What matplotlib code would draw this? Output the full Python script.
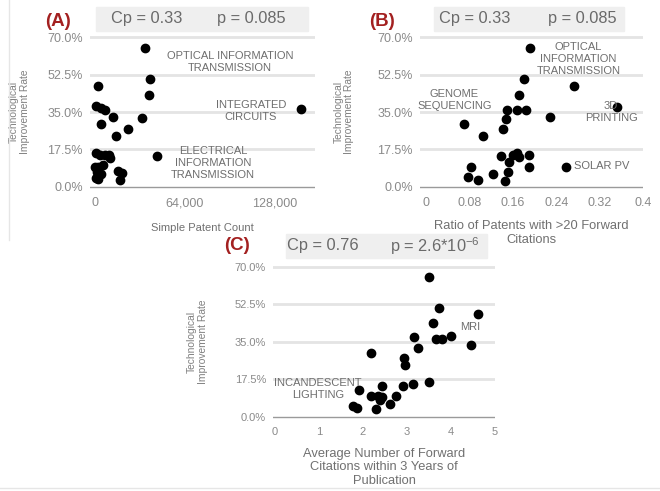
import matplotlib.pyplot as plt
from matplotlib.patches import Rectangle
from matplotlib.lines import Line2D
from matplotlib.ticker import FuncFormatter

plt.rcParams['font.family'] = ['Liberation Sans', 'DejaVu Sans']
plt.rcParams['mathtext.fontset'] = 'custom'
plt.rcParams['mathtext.rm'] = 'Liberation Sans'

# Data
# (A) simple patent count vs improvement rate (%)
a_count = [35500, 39100, 38400, 2100, 146500, 700, 4000, 7100, 12800, 33200,
           4300, 23700, 14900, 44300, 700, 3600, 7100, 10200, 10700, 0,
           2400, 5500, 1200, 4000, 2400, 1000, 16600, 19000, 17800]
a_rate = [65.0, 50.4, 42.9, 47.3, 36.3, 37.8, 36.7, 35.9, 32.8, 32.0,
          29.3, 27.0, 23.8, 14.3, 15.7, 14.9, 14.9, 14.9, 13.4, 9.5,
          9.5, 10.3, 7.1, 6.1, 3.6, 4.1, 7.6, 6.4, 3.3]

# (B) ratio of patents with >20 forward citations
b_ratio = [0.191, 0.181, 0.273, 0.170, 0.352, 0.148, 0.167, 0.183, 0.146, 0.228,
           0.070, 0.141, 0.104, 0.137, 0.152, 0.159, 0.168, 0.171, 0.189, 0.190,
           0.151, 0.145, 0.123, 0.096, 0.076, 0.082, 0.257]
b_rate = [65.0, 50.4, 47.3, 42.9, 37.5, 35.9, 36.0, 36.0, 31.7, 32.8,
          29.3, 27.1, 23.9, 14.5, 11.8, 14.9, 15.7, 14.1, 14.9, 9.5,
          7.1, 2.9, 6.1, 3.3, 4.8, 9.5, 9.3]

# (C) average forward citations within 3 years
c_cites = [3.51, 3.73, 4.62, 3.60, 3.17, 3.65, 3.79, 3.99, 4.45, 3.25,
           2.18, 2.94, 2.95, 2.92, 3.13, 3.51, 2.44, 1.91, 2.18, 2.35,
           2.44, 2.39, 2.75, 2.61, 1.78, 1.87, 2.30]
c_rate = [65.3, 50.6, 47.9, 43.6, 37.1, 36.3, 36.3, 37.8, 33.5, 32.2,
          29.6, 27.5, 24.1, 14.5, 15.1, 16.0, 14.5, 12.5, 9.7, 9.7,
          9.3, 7.8, 9.7, 5.9, 5.1, 3.9, 3.4]

y_ticks = [0, 17.5, 35, 52.5, 70]
a_xticks = [0, 64000, 128000]
a_xticklabels = ['0', '64,000', '128,000']
b_xticks = [0, 0.08, 0.16, 0.24, 0.32, 0.4]
b_xticklabels = ['0', '0.08', '0.16', '0.24', '0.32', '0.4']
c_xticks = [0, 1, 2, 3, 4, 5]

W, H = 660, 491
fig = plt.figure(figsize=(W / 100, H / 100), dpi=100)


def px_rect(left, top, right, bottom):
    return [left / W, 1 - bottom / H, (right - left) / W, (bottom - top) / H]


def setup(ax, xlim, xticks, xticklabels, xlabel, xlsize, labelpad, ticksize, ylx):
    ax.set_xlim(*xlim)
    ax.set_ylim(-1.5, 71.5)
    ax.set_yticks(y_ticks)
    ax.yaxis.set_major_formatter(FuncFormatter(lambda v, p: '%.1f%%' % v))
    ax.set_xticks(xticks)
    ax.set_xticklabels(xticklabels)
    for s in ax.spines.values():
        s.set_visible(False)
    ax.tick_params(length=0, labelsize=ticksize, labelcolor='#8a8a8a', pad=5)
    for t in y_ticks[1:]:
        ax.axhline(t, color='#e4e4e4', lw=2, zorder=0)
    ax.axhline(0, color='#9a9a9a', lw=1, zorder=0)
    ax.set_xlabel(xlabel, fontsize=xlsize, color='#707070', labelpad=labelpad,
                  linespacing=1.15)
    ax.set_ylabel('Technological\nImprovement Rate', fontsize=7.4,
                  color='#808080', linespacing=1.1)
    ax.yaxis.set_label_coords(ylx, 0.5)


def header(letter, lx, ly, box, cp, cpx, pv, pvx):
    l, t, r, b = box
    fig.add_artist(Rectangle((l / W, 1 - b / H), (r - l) / W, (b - t) / H,
                             transform=fig.transFigure, color='#efefef', zorder=0))
    fig.text(lx / W, 1 - ly / H, letter, fontsize=13.5, fontweight='bold',
             color='#a32020', ha='center', va='center')
    ty = 1 - ((t + b) / 2) / H
    fig.text(cpx / W, ty, cp, fontsize=11.8, color='#6a6a6a', ha='center', va='center')
    fig.text(pvx / W, ty, pv, fontsize=11.8, color='#6a6a6a', ha='center', va='center')


lab = dict(fontsize=8, color='#6e6e6e', ha='center', va='center', linespacing=1.25)

# (A)
ax_a = fig.add_axes(px_rect(90, 33.8, 315, 190.2))
ax_a.scatter(a_count, a_rate, s=36, color='black', zorder=3, clip_on=False)
setup(ax_a, (-3500, 156500), a_xticks, a_xticklabels, 'Simple Patent Count',
      8, 10, 9, -0.268)
ax_a.text(96000, 58.3, 'OPTICAL INFORMATION\nTRANSMISSION', **lab)
ax_a.text(110900, 35.7, 'INTEGRATED\nCIRCUITS', **lab)
ax_a.text(83900, 11.2, 'ELECTRICAL\nINFORMATION\nTRANSMISSION', **lab)
header('(A)', 58, 21, (96, 7, 308, 31), 'Cp = 0.33', 146.5, 'p = 0.085', 251.5)

# (B)
ax_b = fig.add_axes(px_rect(420, 33.8, 643, 190.2))
ax_b.scatter(b_ratio, b_rate, s=36, color='black', zorder=3, clip_on=False)
setup(ax_b, (-0.012, 0.397), b_xticks, b_xticklabels,
      'Ratio of Patents with >20 Forward\nCitations', 9.3, 8, 9, -0.295)
ax_b.text(0.2806, 59.7, 'OPTICAL\nINFORMATION\nTRANSMISSION', **lab)
ax_b.text(0.0518, 40.6, 'GENOME\nSEQUENCING', **lab)
ax_b.text(0.341, 35.0, '3D\nPRINTING', **lab)
ax_b.text(0.323, 9.8, 'SOLAR PV', **lab)
header('(B)', 382.5, 21, (434, 7, 624, 31), 'Cp = 0.33', 475, 'p = 0.085', 582)

# (C)
ax_c = fig.add_axes(px_rect(273, 263.5, 495, 419.9))
ax_c.scatter(c_cites, c_rate, s=36, color='black', zorder=3, clip_on=False)
setup(ax_c, (-0.045, 5.0), c_xticks, [str(v) for v in c_xticks],
      'Average Number of Forward\nCitations within 3 Years of\nPublication',
      9.3, 8, 8, -0.293)
ax_c.text(4.43, 42.0, 'MRI', **lab)
ax_c.text(0.98, 12.9, 'INCANDESCENT\nLIGHTING', **lab)
header('(C)', 237, 245, (286, 234, 487, 258), 'Cp = 0.76', 322.5,
       r'p = 2.6*10$^{\mathregular{-6}}$', 435)

# faint page edges
fig.add_artist(Line2D([9 / W, 9 / W], [1 - 240 / H, 1], transform=fig.transFigure,
                      color='#e6e6e6', lw=1))
fig.add_artist(Line2D([0, 1], [1 - 488 / H, 1 - 488 / H], transform=fig.transFigure,
                      color='#e6e6e6', lw=1))

fig.savefig('out.png', dpi=100)
